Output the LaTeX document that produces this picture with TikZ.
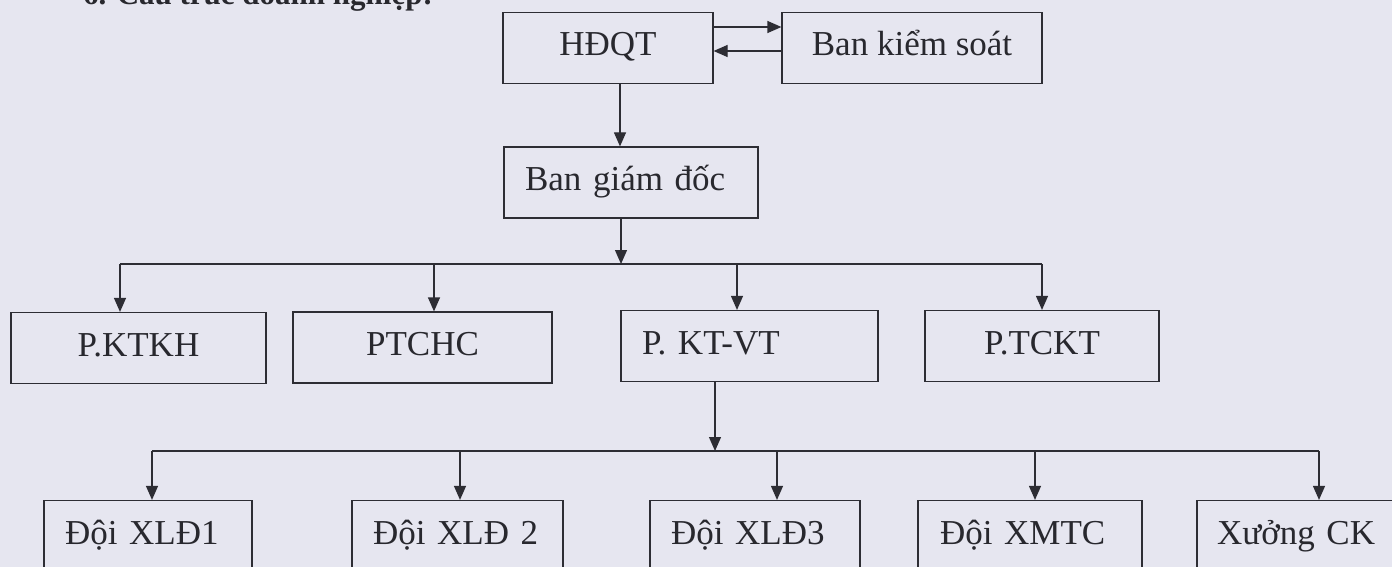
\documentclass[tikz,border=0pt]{standalone}
\usepackage{fontspec}
\setmainfont{Liberation Serif}
\usetikzlibrary{arrows.meta}
\definecolor{bgc}{RGB}{230,230,240}
\definecolor{linec}{RGB}{45,45,52}
\definecolor{textc}{RGB}{40,40,46}
\newcommand\boxfont{\fontsize{35}{40}\selectfont}
\begin{document}
\begin{tikzpicture}[x=1pt,y=-1pt,
  box/.style={draw=linec, line width=1.2pt, minimum height=71pt, text height=24pt, text depth=8pt, inner ysep=0pt, font=\boxfont, text=textc},
  cbox/.style={box, inner xsep=0pt},
  lbox/.style={box, inner xsep=21pt, align=left},
  conn/.style={draw=linec, line width=1.2pt},
  arr/.style={conn, -{Triangle[length=14pt,width=12pt]}}]
\useasboundingbox (0,0) rectangle (1392,567);
\clip (0,0) rectangle (1392,567);
\fill[bgc] (0,0) rectangle (1392,567);
\node[anchor=base west, inner sep=0pt, text=textc, font=\fontsize{31}{36}\selectfont\bfseries] (title) at (83,5) {6. Cấu trúc doanh nghiệp:};
% level 0
\node[cbox, minimum width=210pt] (hdqt) at (608,48) {HĐQT};
\node[cbox, minimum width=260pt] (bks) at (912,48) {Ban kiểm soát};
% level 1
\node[lbox, text width=212pt] (bgd) at (631,182.5) {Ban giám đốc};
% level 2
\node[cbox, minimum width=255pt] (pktkh) at (138.5,348) {P.KTKH};
\node[cbox, minimum width=259pt] (ptchc) at (422.5,347.5) {PTCHC};
\node[lbox, text width=215pt] (pktvt) at (749.5,346) {P. KT-VT};
\node[cbox, minimum width=234pt] (ptckt) at (1042,346) {P.TCKT};
% level 3
\node[lbox, text width=166pt] (xld1) at (148,536) {Đội XLĐ1};
\node[lbox, text width=169pt] (xld2) at (457.5,536) {Đội XLĐ 2};
\node[lbox, text width=168pt] (xld3) at (755,536) {Đội XLĐ3};
\node[lbox, inner xsep=22pt, text width=180pt] (xmtc) at (1030,536) {Đội XMTC};
\node[lbox, inner xsep=20pt, text width=173pt] (xck) at (1303.5,536) {Xưởng CK};
% bus coordinates
\coordinate (b1) at (621,264);
\coordinate (b2) at (715,451);
% connectors
\draw[arr] (hdqt.east |- 0,27) -- (bks.west |- 0,27);
\draw[arr] (bks.west |- 0,51) -- (hdqt.east |- 0,51);
\draw[arr] (hdqt.south -| 620,0) -- (bgd.north -| 620,0);
\draw[arr] (bgd.south -| b1) -- (b1);
\draw[conn] (120,264) -- (1042,264);
\draw[arr] (120,264) -- (pktkh.north -| 120,0);
\draw[arr] (434,264) -- (ptchc.north -| 434,0);
\draw[arr] (737,264) -- (pktvt.north -| 737,0);
\draw[arr] (1042,264) -- (ptckt.north);
\draw[arr] (pktvt.south -| b2) -- (b2);
\draw[conn] (152,451) -- (1319,451);
\draw[arr] (152,451) -- (xld1.north -| 152,0);
\draw[arr] (460,451) -- (xld2.north -| 460,0);
\draw[arr] (777,451) -- (xld3.north -| 777,0);
\draw[arr] (1035,451) -- (xmtc.north -| 1035,0);
\draw[arr] (1319,451) -- (xck.north -| 1319,0);
\end{tikzpicture}
\end{document}
